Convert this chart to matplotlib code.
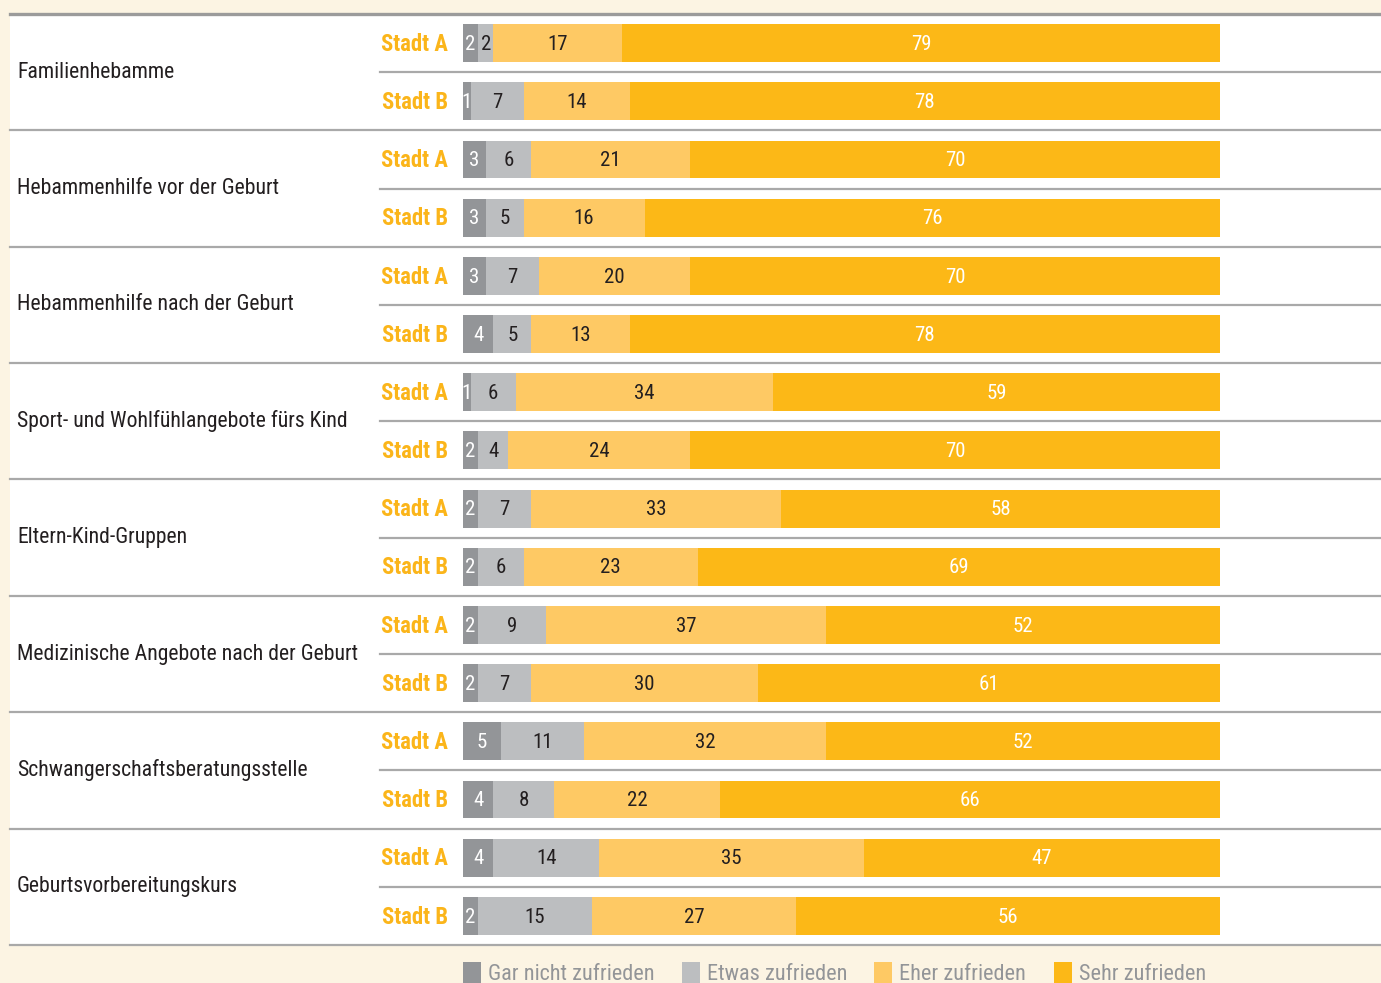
import matplotlib
matplotlib.use('Agg')
import matplotlib.pyplot as plt
from matplotlib.transforms import blended_transform_factory
from matplotlib.lines import Line2D
from matplotlib.patches import Rectangle

plt.rcParams['font.family'] = ['Roboto Condensed', 'IBM Plex Sans Condensed', 'DejaVu Sans']

# Daten (Prozent)
kategorien = ["Familienhebamme", "Hebammenhilfe vor der Geburt", "Hebammenhilfe nach der Geburt",
              "Sport- und Wohlfühlangebote fürs Kind", "Eltern-Kind-Gruppen",
              "Medizinische Angebote nach der Geburt", "Schwangerschaftsberatungsstelle",
              "Geburtsvorbereitungskurs"]
staedte = ["Stadt A", "Stadt B"]
gar_nicht = [2, 1, 3, 3, 3, 4, 1, 2, 2, 2, 2, 2, 5, 4, 4, 2]
etwas = [2, 7, 6, 5, 7, 5, 6, 4, 7, 6, 9, 7, 11, 8, 14, 15]
eher = [17, 14, 21, 16, 20, 13, 34, 24, 33, 23, 37, 30, 32, 22, 35, 27]
sehr = [79, 78, 70, 76, 70, 78, 59, 70, 58, 69, 52, 61, 52, 66, 47, 56]
legende = ["Gar nicht zufrieden", "Etwas zufrieden", "Eher zufrieden", "Sehr zufrieden"]

farben = ['#939598', '#bcbec0', '#fec964', '#fcb817']
textfarben = ['white', '#231f20', '#231f20', 'white']
bg = '#fcf4e3'
linie = '#a9a9a9'
gelb = '#fbb51a'

W, H = 1381, 983
fig = plt.figure(figsize=(W / 100, H / 100), dpi=100)
fig.patch.set_facecolor(bg)

# weisses Panel
fig.add_artist(Rectangle((10 / W, 1 - 945 / H), 1 - 10 / W, (945 - 14) / H,
                         transform=fig.transFigure, facecolor='white', edgecolor='none', zorder=0))

ax = fig.add_axes([463 / W, 1 - 945 / H, (1220 - 463) / W, (945 - 14) / H])
ax.set_xlim(0, 100)
n = len(gar_nicht)
ax.set_ylim(n - 0.5, -0.5)
ax.axis('off')
ax.patch.set_alpha(0)

reihen = list(range(n))
serien = [gar_nicht, etwas, eher, sehr]
links = [0] * n
for s, werte in enumerate(serien):
    ax.barh(reihen, werte, left=links, height=0.65, color=farben[s], edgecolor='none')
    for i, v in enumerate(werte):
        ax.text(links[i] + v / 2, i + 0.02, str(v), ha='center', va='center',
                fontsize=15, color=textfarben[s])
    links = [a + b for a, b in zip(links, werte)]

tr = blended_transform_factory(fig.transFigure, ax.transData)

# Linien
for i in range(n + 1):
    y = i - 0.5
    if i % 2 == 0:
        x0 = 10 / W
        lw = 2.4 if i == 0 else 1.6
        col = '#9b9b9b' if i == 0 else linie
    else:
        x0 = 380 / W
        lw = 1.6
        col = linie
    ax.add_line(Line2D([x0, 1], [y, y], transform=tr, color=col, lw=lw, clip_on=False))

# Beschriftungen
for i in range(n):
    ax.text(448 / W, i + 0.02, staedte[i % 2], transform=tr, ha='right', va='center',
            fontsize=16.3, fontweight='bold', color=gelb)
for g, k in enumerate(kategorien):
    ax.text(17 / W, 2 * g + 0.5, k, transform=tr, ha='left', va='center',
            fontsize=15.7, color='#231f20')

# Legende
leg_x = [463, 682, 874, 1054]
for j, name in enumerate(legende):
    fig.add_artist(Rectangle((leg_x[j] / W, 1 - 985 / H), 18 / W, 23 / H,
                             transform=fig.transFigure, facecolor=farben[j], edgecolor='none'))
    fig.text((leg_x[j] + 25) / W, 1 - 980 / H, name, ha='left', va='baseline',
             fontsize=16, color='#939598')

fig.savefig('out.png', dpi=100, facecolor=bg)
